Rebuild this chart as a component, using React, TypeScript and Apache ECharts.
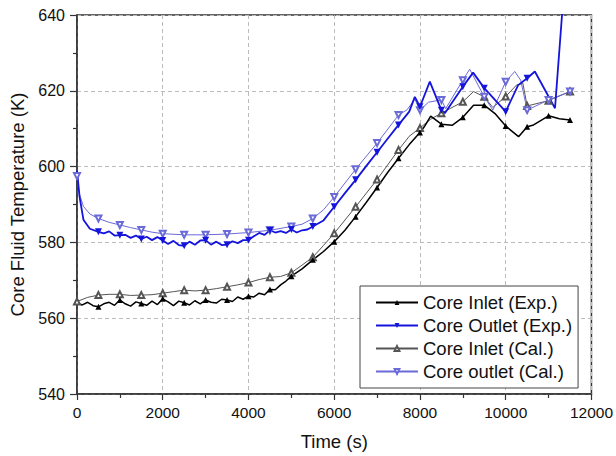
import React, { useEffect, useRef } from "react";
import * as echarts from "echarts";

// ---- data (time in s, temperature in K) ----
const inletExpTime = [0, 125, 250, 375, 500, 625, 750, 875, 1000, 1125, 1250, 1375, 1500, 1625, 1750, 1875, 2000, 2125, 2250, 2375, 2500, 2625, 2750, 2875, 3000, 3125, 3250, 3375, 3500, 3625, 3750, 3875, 4000, 4125, 4250, 4375, 4500, 4625, 4750, 4875, 5000, 5250, 5500, 5750, 6000, 6250, 6500, 6750, 7000, 7250, 7500, 7750, 8000, 8100, 8250, 8500, 8750, 9000, 9250, 9500, 9750, 10000, 10300, 10500, 10650, 11000, 11250, 11500];
const inletExpTemp = [564.0, 563.5, 564.2, 563.3, 563.0, 563.8, 564.2, 563.4, 564.8, 563.8, 563.2, 564.3, 563.9, 563.4, 564.5, 563.6, 565.1, 564.3, 563.3, 564.5, 564.1, 563.5, 564.6, 563.8, 564.8, 564.2, 564.0, 565.0, 564.8, 564.4, 565.6, 565.0, 565.8, 565.6, 566.6, 566.2, 567.6, 567.5, 568.8, 569.8, 571.1, 573.0, 575.4, 577.6, 580.2, 583.2, 586.8, 590.6, 594.5, 598.5, 602.2, 605.8, 609.0, 610.5, 613.3, 611.2, 610.9, 613.0, 616.2, 616.2, 614.0, 610.7, 607.9, 610.5, 611.0, 613.4, 612.6, 612.3];

const outletExpTime = [0, 60, 150, 300, 500, 625, 750, 875, 1000, 1125, 1250, 1375, 1500, 1625, 1750, 1875, 2000, 2125, 2250, 2375, 2500, 2625, 2750, 2875, 3000, 3125, 3250, 3375, 3500, 3625, 3750, 3875, 4000, 4125, 4250, 4375, 4500, 4625, 4750, 4875, 5000, 5125, 5250, 5375, 5500, 5750, 6000, 6250, 6500, 6750, 7000, 7250, 7500, 7750, 7880, 8000, 8230, 8500, 8580, 9000, 9240, 9500, 10000, 10290, 10500, 10680, 11150, 11380];
const outletExpTemp = [599.0, 592.0, 586.0, 583.6, 582.8, 582.4, 582.9, 581.8, 581.9, 582.0, 581.2, 581.8, 580.9, 581.5, 580.6, 581.4, 580.5, 579.6, 580.4, 579.3, 579.1, 580.2, 579.4, 580.5, 580.6, 579.4, 580.2, 579.3, 579.4, 580.3, 579.8, 580.6, 580.6, 581.6, 582.5, 582.0, 583.2, 582.6, 583.0, 582.5, 583.4, 582.6, 583.2, 583.4, 584.2, 585.8, 589.4, 593.0, 596.5, 600.2, 603.8, 607.4, 611.0, 614.5, 618.4, 615.8, 622.4, 614.9, 614.1, 621.1, 624.8, 620.7, 614.5, 621.5, 623.3, 625.1, 615.4, 650.0];

const inletCalTime = [0, 250, 500, 750, 1000, 1250, 1500, 1750, 2000, 2250, 2500, 2750, 3000, 3250, 3500, 3750, 4000, 4250, 4500, 4750, 5000, 5250, 5500, 5750, 6000, 6500, 7000, 7500, 7750, 8000, 8250, 8500, 9000, 9250, 9500, 9700, 10000, 10250, 10400, 10500, 11000, 11500];
const inletCalTemp = [564.4, 565.5, 566.1, 566.3, 566.3, 566.0, 566.1, 566.2, 566.6, 567.0, 567.4, 567.2, 567.4, 567.8, 568.3, 568.8, 569.4, 570.2, 570.8, 571.0, 572.0, 574.0, 576.1, 579.2, 582.4, 589.4, 596.6, 604.4, 608.0, 610.2, 612.5, 614.1, 617.1, 619.8, 618.4, 615.6, 618.5, 621.5, 622.0, 616.0, 617.4, 619.8];

const outletCalTime = [0, 50, 150, 300, 500, 750, 1000, 1250, 1500, 1750, 2000, 2500, 3000, 3500, 4000, 4500, 5000, 5250, 5500, 5750, 6000, 6500, 7000, 7500, 7700, 7880, 8000, 8200, 8500, 8600, 9000, 9160, 9500, 9700, 10000, 10210, 10350, 10500, 11000, 11500];
const outletCalTemp = [597.5, 593.0, 589.5, 587.5, 586.3, 585.3, 584.6, 583.9, 583.3, 582.7, 582.3, 582.0, 582.0, 582.2, 582.6, 583.2, 584.2, 584.8, 586.3, 588.6, 592.0, 599.3, 606.2, 613.6, 615.0, 617.8, 614.9, 617.0, 617.6, 615.3, 622.8, 625.7, 618.4, 614.9, 622.4, 625.1, 622.8, 614.9, 617.6, 619.8];

const seriesNames = ["Core Inlet (Exp.)", "Core Outlet (Exp.)", "Core Inlet (Cal.)", "Core outlet (Cal.)"];

const FONT = "'Liberation Sans', Arial, sans-serif";

function build(times: number[], temps: number[], firstMarker: number) {
  return times.map((t, i) => {
    const marked = t % 500 === 0 && t >= firstMarker;
    return marked ? { value: [t, temps[i]] } : { value: [t, temps[i]], symbol: "none" };
  });
}

export default function App() {
  const ref = useRef<HTMLDivElement>(null);
  useEffect(() => {
    document.body.style.margin = "0";
    const chart = echarts.init(ref.current!, null, { renderer: "svg" });
    const common = { type: "line", showAllSymbol: true, clip: true, z: 3 };
    chart.setOption({
      animation: false,
      backgroundColor: "#fff",
      textStyle: { fontFamily: FONT },
      grid: { left: 77, right: 24, top: 15, bottom: 62, show: true, borderColor: "#333", borderWidth: 1.5 },
      legend: {
        left: 360,
        top: 286,
        orient: "vertical",
        backgroundColor: "#fff",
        borderColor: "#444",
        borderWidth: 1,
        padding: [7, 6, 7, 15],
        itemWidth: 42,
        itemHeight: 6,
        itemGap: 4,
        textStyle: { fontSize: 18.5, color: "#111", fontFamily: FONT },
        data: seriesNames,
      },
      xAxis: {
        type: "value",
        min: 0,
        max: 12000,
        interval: 2000,
        name: "Time (s)",
        nameLocation: "middle",
        nameGap: 38,
        nameTextStyle: { fontSize: 18.5, color: "#111", fontFamily: FONT },
        axisLine: { show: true, lineStyle: { color: "#333", width: 1.5 } },
        axisTick: { show: true, inside: false, length: 6, lineStyle: { color: "#333", width: 1.2 } },
        minorTick: { show: true, splitNumber: 2, length: 4, lineStyle: { color: "#333", width: 1.2 } },
        axisLabel: { fontSize: 15.5, color: "#111", margin: 10, fontFamily: FONT, formatter: (v: number) => String(v) },
        splitLine: { show: true, lineStyle: { color: "#bcbcbc", type: [4, 3], width: 1 } },
      },
      yAxis: {
        type: "value",
        min: 540,
        max: 640,
        interval: 20,
        name: "Core Fluid Temperature (K)",
        nameLocation: "middle",
        nameGap: 48,
        nameTextStyle: { fontSize: 18.5, color: "#111", fontFamily: FONT },
        axisLine: { show: true, lineStyle: { color: "#333", width: 1.5 } },
        axisTick: { show: true, inside: false, length: 7, lineStyle: { color: "#333", width: 1.2 } },
        minorTick: { show: true, splitNumber: 2, length: 4, lineStyle: { color: "#333", width: 1.2 } },
        axisLabel: { fontSize: 16, color: "#111", margin: 12, fontFamily: FONT, formatter: (v: number) => String(v) },
        splitLine: { show: true, lineStyle: { color: "#bcbcbc", type: [4, 3], width: 1 } },
      },
      series: [
        {
          ...common,
          name: seriesNames[2],
          data: build(inletCalTime, inletCalTemp, 0),
          symbol: "emptyTriangle",
          symbolSize: 6,
          color: "#555",
          lineStyle: { color: "#555", width: 1 },
          itemStyle: { color: "#555", borderWidth: 0.8 },
        },
        {
          ...common,
          name: seriesNames[3],
          data: build(outletCalTime, outletCalTemp, 0),
          symbol: "emptyTriangle",
          symbolRotate: 180,
          symbolSize: 6,
          color: "#6a6ad8",
          lineStyle: { color: "#6a6ad8", width: 1 },
          itemStyle: { color: "#6a6ad8", borderWidth: 0.8 },
        },
        {
          ...common,
          name: seriesNames[0],
          data: build(inletExpTime, inletExpTemp, 500),
          symbol: "triangle",
          symbolSize: 6,
          color: "#000",
          lineStyle: { color: "#000", width: 1.5 },
          itemStyle: { color: "#000" },
        },
        {
          ...common,
          name: seriesNames[1],
          data: build(outletExpTime, outletExpTemp, 500),
          symbol: "triangle",
          symbolRotate: 180,
          symbolSize: 7,
          color: "#1414dc",
          lineStyle: { color: "#1414dc", width: 1.8 },
          itemStyle: { color: "#1414dc" },
        },
      ],
    });
    return () => chart.dispose();
  }, []);
  return <div ref={ref} style={{ width: 616, height: 456 }} />;
}
